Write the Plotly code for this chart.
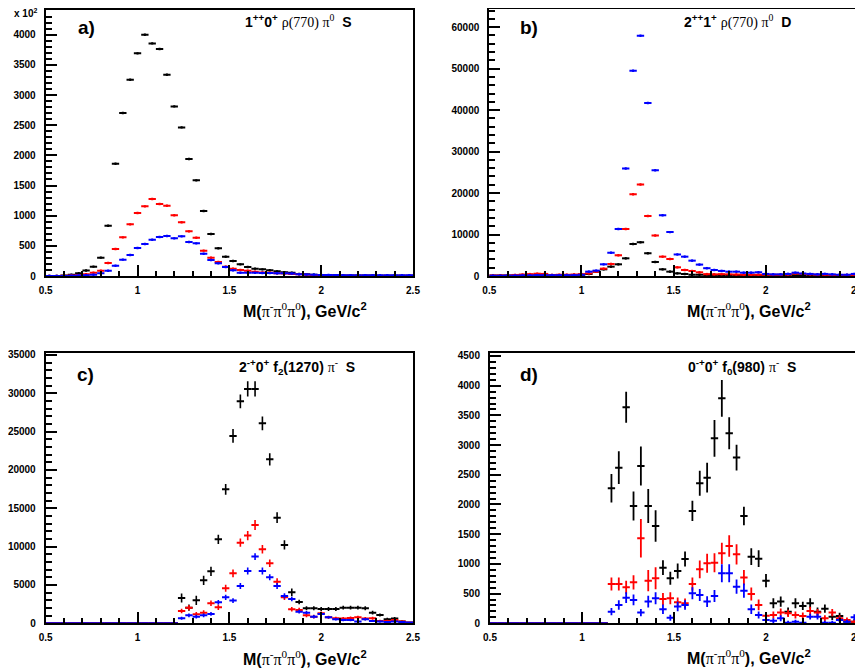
import plotly.graph_objects as go

OFF = 8  # page body margin in the browser
W, H = 863 - OFF, 672 - OFF

# ---------------- data ----------------
BIN_HALF = 0.02
CENTERS = [round(0.52 + 0.04 * i, 2) for i in range(50)]

# panel a (units of 10^2)
A_BLACK = [0, 0, 8, 20, 45, 90, 155, 304, 834, 1862, 2702, 3254, 3691, 4000, 3856, 3763, 3337, 2812,
           2464, 1939, 1586, 1077, 696, 459, 320, 249, 193, 149, 122, 110, 94, 77, 61, 55, 33, 28,
           20, 15, 12, 10, 10, 8, 8, 10, 8, 6, 6, 5, 5, 5]
A_RED = [0, 0, 3, 8, 15, 28, 55, 88, 215, 448, 641, 856, 1044, 1155, 1276, 1193, 1166, 1006,
         890, 740, 635, 420, 304, 232, 155, 122, 99, 88, 72, 60, 55, 45, 40, 35, 30, 22,
         15, 12, 10, 8, 6, 6, 5, 5, 5, 4, 4, 3, 3, 3]
A_BLUE = [0, 0, 2, 4, 8, 12, 22, 44, 88, 171, 271, 348, 464, 530, 602, 646, 663, 624,
          657, 564, 541, 370, 265, 210, 149, 94, 55, 55, 52, 50, 48, 46, 45, 42, 30, 25,
          20, 18, 16, 15, 14, 12, 12, 12, 12, 12, 12, 12, 12, 12]
A_ERR = 20

# panel b
B_BLACK = [100, 100, 100, 150, 200, 250, 300, 250, 200, 150, 200, 250, 300, 480, 1050, 1610, 2250, 2815,
           4260, 7720, 8120, 5470, 3380, 1610, 1050, 640, 480, 300, 300, 250, 250, 200, 200, 200, 200, 200,
           200, 200, 200, 200, 200, 200, 200, 200, 200, 200, 200, 200, 200, 200]
B_RED = [100, 150, 150, 250, 350, 450, 550, 500, 250, 300, 300, 350, 450, 640, 1050, 1770, 2900, 4990,
         11340, 19700, 22040, 14480, 9780, 4660, 4100, 2090, 1450, 1200, 890, 450, 400, 450, 400, 350, 300, 300,
         300, 300, 300, 300, 350, 600, 500, 400, 300, 300, 250, 250, 250, 250]
B_BLUE = [50, 50, 100, 100, 150, 150, 200, 200, 200, 200, 200, 200, 300, 1050, 1290, 2815, 5630, 11340,
          25900, 49460, 57910, 41740, 25500, 14640, 10580, 5200, 4660, 3700, 2750, 1880, 1450, 1220, 1040, 1040, 800, 800,
          900, 500, 400, 400, 500, 800, 600, 500, 400, 500, 400, 300, 300, 500]
B_ERR = 300

# panel c
C_BLACK = [0] * 18 + [3300, 2040, 3000, 5600, 6780, 10960, 17480, 24440, 28960, 30570, 30570, 26090,
                      21390, 13780, 10220, 4040, 2780, 1960, 1960, 1870, 1870, 1870, 2040, 2040, 2040,
                      1960, 1390, 1090, 520, 610, 220, 80]
C_BLACK_ERR = [0] * 18 + [600, 400, 600, 600, 600, 600, 700, 900, 900, 1000, 1000, 900,
                          800, 700, 600, 500, 300, 250, 250, 250, 250, 250, 250, 250, 250,
                          250, 250, 200, 200, 200, 150, 100]
C_RED = [0] * 18 + [1610, 2040, 1170, 1390, 2610, 2090, 4570, 6520, 10520, 11440, 12830, 9650,
                    7830, 5430, 3390, 1830, 1740, 1040, 870, 1300, 780, 650, 610, 700, 780,
                    610, 650, 300, 300, 430, 220, 90]
C_RED_ERR = [0] * 18 + [300, 350, 300, 300, 350, 350, 450, 500, 550, 600, 650, 550,
                        500, 450, 350, 300, 300, 250, 250, 250, 200, 200, 200, 200, 200,
                        200, 200, 150, 150, 150, 100, 80]
C_BLUE = [0] * 18 + [650, 1040, 870, 1040, 1220, 2740, 3390, 2960, 4870, 6830, 8700, 6830,
                     6000, 4870, 3570, 3170, 1520, 1390, 870, 1220, 780, 520, 430, 430, 220,
                     520, 300, 220, 170, 220, 170, 90]
C_BLUE_ERR = [0] * 18 + [200, 250, 250, 250, 250, 300, 350, 300, 400, 450, 450, 450,
                         400, 400, 350, 300, 250, 200, 200, 200, 150, 150, 150, 150, 100,
                         150, 100, 100, 100, 100, 80, 60]

# panel d
D_BLACK = [0] * 16 + [2272, 2620, 3636, 1975, 2648, 1975, 1638, 937, 757, 881, 1083, 1891, 2357, 2452,
                      3114, 3787, 3198, 2789, 1807, 1122, 1088, 718, 337, 365, 196, 337, 292, 337,
                      196, 247, 112, 123, 28, 28]
D_BLACK_ERR = [0] * 16 + [240, 275, 260, 245, 330, 285, 265, 125, 110, 125, 125, 170, 210, 250,
                          310, 310, 270, 215, 155, 140, 140, 110, 85, 85, 70, 85, 70, 85,
                          70, 70, 55, 55, 40, 40]
D_RED = [0] * 16 + [662, 662, 606, 690, 1431, 718, 757, 410, 421, 353, 337, 662, 909, 1010,
                    1021, 1178, 1302, 1161, 769, 494, 309, 129, 140, 180, 168, 140, 123, 208,
                    180, 84, 180, 84, 56, 28]
D_RED_ERR = [0] * 16 + [110, 110, 110, 120, 325, 180, 185, 100, 100, 80, 80, 110, 150, 160,
                        160, 180, 180, 170, 130, 110, 90, 60, 60, 70, 60, 60, 60, 70,
                        60, 50, 60, 50, 40, 30]
D_BLUE = [0] * 16 + [196, 309, 432, 393, 180, 365, 421, 236, 95, 281, 309, 505, 477, 365,
                     460, 842, 842, 617, 550, 236, 140, 56, 45, 84, 11, 28, 11, 112,
                     112, 11, 11, 56, 28, 101]
D_BLUE_ERR = [0] * 16 + [60, 80, 90, 90, 60, 100, 100, 80, 50, 80, 80, 100, 100, 90,
                         100, 150, 150, 120, 120, 80, 60, 40, 40, 50, 30, 30, 30, 50,
                         50, 30, 30, 40, 30, 50]

SERIF = "<span style='font-family:Liberation Serif'>"
TITLES = [
    "<b>1<sup>++</sup>0<sup>+</sup></b> " + SERIF + "ρ(770) π<sup>0</sup></span>  <b>S</b>",
    "<b>2<sup>++</sup>1<sup>+</sup></b> " + SERIF + "ρ(770) π<sup>0</sup></span>  <b>D</b>",
    "<b>2<sup>-+</sup>0<sup>+</sup> f<sub>2</sub>(1270)</b> " + SERIF + "π<sup>-</sup></span>  <b>S</b>",
    "<b>0<sup>-+</sup>0<sup>+</sup> f<sub>0</sub>(980)</b> " + SERIF + "π<sup>-</sup></span>  <b>S</b>",
]
LABELS = ["a)", "b)", "c)", "d)"]
XTITLE = ("<b>M(</b>" + SERIF + "π<sup>-</sup>π<sup>0</sup>π<sup>0</sup></span>"
          "<b>), GeV/c<sup>2</sup></b>")

# ---------------- layout geometry (screen pixels) ----------------
PANELS = [
    dict(x0=45.7, x1=413.0, y0=10.3, y1=276.0, ymax=4405, major=500, minor=100),
    dict(x0=489.3, x1=858.0, y0=6.0, y1=276.0, ymax=65100, major=10000, minor=2000),
    dict(x0=45.7, x1=413.0, y0=353.3, y1=623.3, ymax=35220, major=5000, minor=1000),
    dict(x0=490.0, x1=858.0, y0=353.3, y1=623.3, ymax=4545, major=500, minor=100),
]
SERIES = [
    [(A_BLACK, A_ERR), (A_RED, A_ERR), (A_BLUE, A_ERR)],
    [(B_BLACK, B_ERR), (B_RED, B_ERR), (B_BLUE, B_ERR)],
    [(C_BLACK, C_BLACK_ERR), (C_RED, C_RED_ERR), (C_BLUE, C_BLUE_ERR)],
    [(D_BLACK, D_BLACK_ERR), (D_RED, D_RED_ERR), (D_BLUE, D_BLUE_ERR)],
]
COLORS = ["#000000", "#ff0000", "#0000ff"]
THICK = [2.0, 2.0, 1.6, 1.8]


def px(x):
    return (x - OFF) / W


def py(y):
    return 1 - (y - OFF) / H


fig = go.Figure()
layout = dict(width=W, height=H, margin=dict(l=0, r=0, t=0, b=0, autoexpand=False),
              paper_bgcolor="white", plot_bgcolor="white", showlegend=False)
annotations = []
tfont = dict(family="Liberation Sans", size=10, color="black", weight="bold")

for i, p in enumerate(PANELS):
    k = "" if i == 0 else str(i + 1)
    xa, ya = "x" + k, "y" + k
    y0 = max(p["y0"], OFF + 1)
    ymax = p["ymax"] * (p["y1"] - y0) / (p["y1"] - p["y0"])
    layout["xaxis" + k] = dict(
        domain=[px(p["x0"]), min(1.0, px(p["x1"]))], range=[0.5, 2.5], anchor=ya, automargin=False,
        showline=True, linecolor="black", linewidth=2, mirror=True, showgrid=False, zeroline=False,
        ticks="inside", ticklen=11, tickwidth=1.5, tickcolor="black",
        tickvals=[0.5, 1, 1.5, 2, 2.5], ticktext=["0.5", "1", "1.5", "2", "2.5"],
        minor=dict(ticks="inside", ticklen=5, tickwidth=1.5, tickcolor="black", dtick=0.1, tick0=0.5),
        tickfont=tfont, ticklabelstandoff=4, ticklabeloverflow="allow")
    layout["yaxis" + k] = dict(
        domain=[py(p["y1"]), py(y0)], range=[0, ymax], anchor=xa, automargin=False,
        showline=True, linecolor="black", linewidth=2, mirror=True, showgrid=False, zeroline=False,
        ticks="inside", ticklen=11, tickwidth=1.5, tickcolor="black", dtick=p["major"], tick0=0,
        minor=dict(ticks="inside", ticklen=6, tickwidth=1.5, tickcolor="black", dtick=p["minor"], tick0=0),
        tickfont=tfont, ticklabelstandoff=6, tickformat="d", ticklabeloverflow="allow")
    for (vals, err), col in zip(SERIES[i], COLORS):
        if isinstance(err, list):
            ey = dict(type="data", array=err, visible=True, color=col, thickness=THICK[i], width=0)
        else:
            ey = dict(type="constant", value=err, visible=True, color=col, thickness=THICK[i], width=0)
        fig.add_trace(go.Scatter(
            x=CENTERS, y=vals, mode="markers", xaxis=xa, yaxis=ya,
            marker=dict(size=2, color=col, opacity=0),
            error_x=dict(type="constant", value=BIN_HALF, visible=True, color=col, thickness=2, width=0),
            error_y=ey, hoverinfo="skip"))

# titles / labels positions (screen pixels: x left/center, y center)
TITLE_POS = [(243, 21.5), (682, 21.5), (237, 367), (686, 367)]
LABEL_POS = [(86, 27), (529, 27), (85, 374.5), (529, 374.5)]
XTITLE_POS = [(305, 310), (749, 310), (305, 658), (749, 657)]
for i in range(4):
    tx, ty = TITLE_POS[i]
    annotations.append(dict(text=TITLES[i], x=px(tx), y=py(ty), xref="paper", yref="paper",
                            xanchor="left", yanchor="middle", showarrow=False,
                            font=dict(family="Liberation Sans", size=14, color="black")))
    lx, ly = LABEL_POS[i]
    annotations.append(dict(text="<b>" + LABELS[i] + "</b>", x=px(lx), y=py(ly), xref="paper",
                            yref="paper", xanchor="center", yanchor="middle", showarrow=False,
                            font=dict(family="Liberation Sans", size=19, color="black")))
    xx, xy = XTITLE_POS[i]
    annotations.append(dict(text=XTITLE, x=px(xx), y=py(xy), xref="paper", yref="paper",
                            xanchor="center", yanchor="middle", showarrow=False,
                            font=dict(family="Liberation Sans", size=16, color="black")))

annotations.append(dict(text="<b>x 10<sup>2</sup></b>", x=px(25), y=py(13), xref="paper",
                        yref="paper", xanchor="center", yanchor="middle", showarrow=False,
                        font=dict(family="Liberation Sans", size=10, color="black")))
layout["annotations"] = annotations
fig.update_layout(**layout)
fig.write_html("out.html")
